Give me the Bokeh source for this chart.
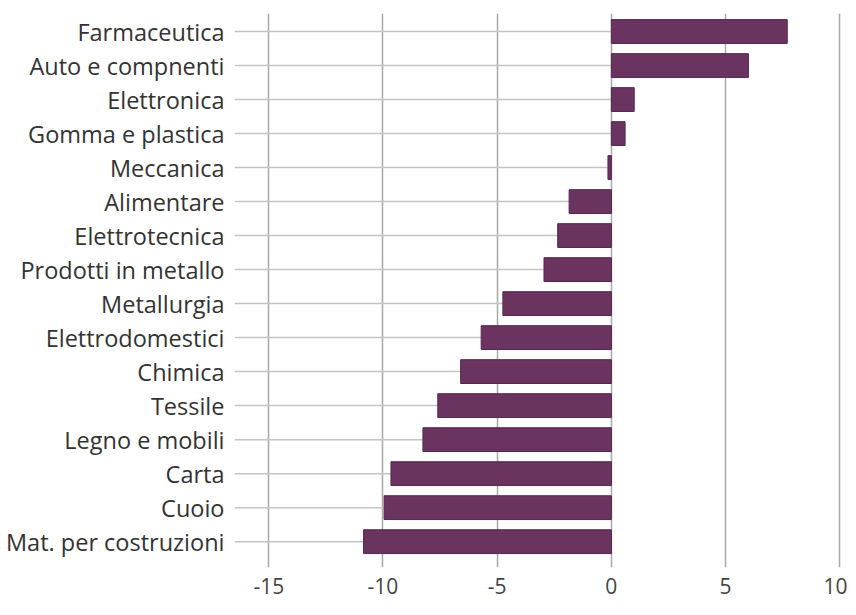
from bokeh.plotting import figure
from bokeh.models import Range1d, FixedTicker
from bokeh.embed import file_html
from bokeh.resources import INLINE

categories = ["Farmaceutica", "Auto e compnenti", "Elettronica", "Gomma e plastica",
              "Meccanica", "Alimentare", "Elettrotecnica", "Prodotti in metallo",
              "Metallurgia", "Elettrodomestici", "Chimica", "Tessile",
              "Legno e mobili", "Carta", "Cuoio", "Mat. per costruzioni"]
values = [7.7, 6.0, 1.0, 0.6, -0.15, -1.85, -2.35, -2.95, -4.75, -5.7,
          -6.6, -7.6, -8.25, -9.65, -9.95, -10.85]
x_ticks = [-15, -10, -5, 0, 5, 10]
x_tick_labels = ["-15", "-10", "-5", "0", "5", "10"]

positions = list(range(len(categories)))
x_start, x_end = -16.5, 10.25

p = figure(output_backend="svg", toolbar_location=None,
           frame_width=611, frame_height=554,
           min_border_left=234, min_border_right=2,
           min_border_top=13, min_border_bottom=38,
           x_range=Range1d(x_start, x_end),
           y_range=Range1d(len(categories) - 0.24, -0.53))
p.outline_line_color = None
p.background_fill_color = "white"
p.border_fill_color = "white"

# horizontal guide lines from left edge to zero
p.segment(x0=[x_start] * len(positions), x1=[0] * len(positions),
          y0=positions, y1=positions, line_color="#c4c4c4", line_width=1.5)

p.hbar(y=positions, left=0, right=values, height=0.7,
       fill_color="#6a3360", line_color="#52284b", line_width=1)

p.xaxis.ticker = FixedTicker(ticks=x_ticks)
p.xaxis.major_label_overrides = {t: l for t, l in zip(x_ticks, x_tick_labels)}
p.xgrid.ticker = FixedTicker(ticks=x_ticks)
p.xgrid.grid_line_color = "#a8a8a8"
p.xgrid.grid_line_width = 1.5
p.ygrid.grid_line_color = None

p.yaxis.ticker = FixedTicker(ticks=positions)
p.yaxis.major_label_overrides = {i: c for i, c in zip(positions, categories)}

for ax in (p.xaxis, p.yaxis):
    ax.axis_line_color = None
    ax.major_tick_line_color = None
    ax.minor_tick_line_color = None
    ax.major_label_text_font = "Open Sans"

p.yaxis.major_label_text_font_size = "23.5px"
p.yaxis.major_label_text_color = "#333333"
p.yaxis.major_label_standoff = 4
p.xaxis.major_label_text_font_size = "21px"
p.xaxis.major_label_text_color = "#444444"
p.xaxis.major_label_standoff = 4

open("out.html", "w").write(file_html(p, INLINE))
